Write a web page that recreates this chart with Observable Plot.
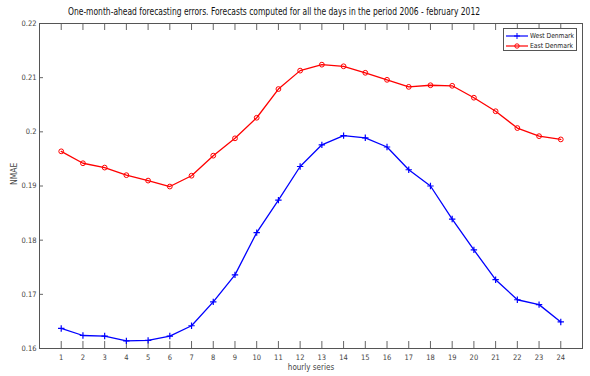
<!DOCTYPE html>
<html>
<head>
<meta charset="utf-8">
<script src="https://cdn.jsdelivr.net/npm/d3@7"></script>
<script src="https://cdn.jsdelivr.net/npm/@observablehq/plot@0.6"></script>
<style>
  body { margin: 0; background: #fff; }
  #wrap { position: relative; width: 590px; height: 376px; overflow: hidden; font-family: "Liberation Sans Narrow", "DejaVu Sans Condensed", "Liberation Sans", Arial, sans-serif; }
  #title { position: absolute; left: 68px; top: 5px; font-size: 10.5px; color: #111; white-space: nowrap; transform-origin: 0 0; }
  #legend { position: absolute; left: 503px; top: 28px; width: 72px; height: 21px; border: 1px solid #555; background: #fff; font-size: 7px; color: #222; }
  .lrow { position: absolute; left: 1px; height: 10px; display: flex; align-items: center; white-space: nowrap; }
  .lrow svg { margin-right: 1px; flex: none; }
  .lrow span { display: inline-block; transform-origin: 0 50%; }
  #wrap svg.plot { position: absolute; left: 0; top: 0; }
</style>
</head>
<body>
<div id="wrap"></div>
<script>
const titleText = "One-month-ahead forecasting errors. Forecasts  computed for all the days in the period 2006 - february 2012";
const seriesNames = ["West Denmark", "East Denmark"];
const seriesColors = ["#0000ff", "#ff0000"];
const hours = [1,2,3,4,5,6,7,8,9,10,11,12,13,14,15,16,17,18,19,20,21,22,23,24];
const westDenmark = [0.1637,0.1624,0.1623,0.1614,0.1615,0.1623,0.1642,0.1686,0.1736,0.1814,0.1874,0.1936,
                     0.1976,0.1993,0.1989,0.1972,0.1930,0.1900,0.1839,0.1782,0.1727,0.1690,0.1681,0.1649];
const eastDenmark = [0.1964,0.1942,0.1934,0.1920,0.1910,0.1899,0.1919,0.1956,0.1988,0.2026,0.2079,0.2113,
                     0.2124,0.2121,0.2109,0.2096,0.2083,0.2086,0.2085,0.2063,0.2038,0.2007,0.1992,0.1986];
const yTicks = [0.16,0.17,0.18,0.19,0.2,0.21,0.22];
const xLabel = "hourly series";
const yLabel = "NMAE";

const W = 590, H = 376, mT = 23, mB = 28, mL = 39, mR = 8;
const plotH = H - mT - mB, plotW = W - mL - mR;

const west = hours.map((h, i) => ({hour: h, value: westDenmark[i]}));
const east = hours.map((h, i) => ({hour: h, value: eastDenmark[i]}));

const plusSymbol = {
  draw(ctx, size) {
    const r = Math.sqrt(size / Math.PI);
    ctx.moveTo(-r, 0); ctx.lineTo(r, 0);
    ctx.moveTo(0, -r); ctx.lineTo(0, r);
  }
};

const axisColor = "#444";
const chart = Plot.plot({
  width: W, height: H,
  marginTop: mT, marginBottom: mB, marginLeft: mL, marginRight: mR,
  style: {fontFamily: "'Liberation Sans Narrow', 'DejaVu Sans Condensed', 'Liberation Sans', sans-serif", fontSize: "7.5px", color: axisColor, background: "white"},
  x: {domain: [0, 25]},
  y: {domain: [0.16, 0.22]},
  marks: [
    Plot.ruleX(hours, {x: d => d, insetTop: plotH - 7, stroke: "#666"}),
    Plot.ruleX(hours, {x: d => d, insetBottom: plotH - 7, stroke: "#666"}),
    Plot.ruleY(yTicks, {y: d => d, insetRight: plotW - 4, stroke: "#666"}),
    Plot.axisX({ticks: hours, tickSize: 0, tickPadding: 6, tickFormat: d => `${d}`, label: null, fill: axisColor}),
    Plot.axisY({ticks: yTicks, tickSize: 0, tickPadding: 3, tickFormat: d => `${d}`, label: null, fill: axisColor}),
    Plot.text([xLabel], {frameAnchor: "bottom", dy: 21, dx: 0, fill: axisColor, fontSize: 8}),
    Plot.text([yLabel], {frameAnchor: "left", dx: -25, dy: -1, rotate: -90, fill: axisColor, fontSize: 8.5}),
    Plot.line(west, {x: "hour", y: "value", stroke: seriesColors[0], strokeWidth: 1.3}),
    Plot.dot(west, {x: "hour", y: "value", symbol: plusSymbol, r: 3.2, stroke: seriesColors[0], strokeWidth: 1.2, fill: "none"}),
    Plot.line(east, {x: "hour", y: "value", stroke: seriesColors[1], strokeWidth: 1.3}),
    Plot.dot(east, {x: "hour", y: "value", symbol: "circle", r: 2.4, stroke: seriesColors[1], strokeWidth: 1, fill: "none"}),
    Plot.frame({stroke: "#555"})
  ]
});
chart.classList.add("plot");
const wrap = document.getElementById("wrap");
wrap.appendChild(chart);

// Title
const t = document.createElement("div");
t.id = "title";
t.textContent = titleText;
wrap.appendChild(t);
const tw = t.getBoundingClientRect().width;
t.style.transform = `scaleX(${412 / tw})`;

// Legend
const lg = document.createElement("div");
lg.id = "legend";
wrap.appendChild(lg);
seriesNames.forEach((name, i) => {
  const row = document.createElement("div");
  row.className = "lrow";
  row.style.top = (i === 0 ? 2 : 12) + "px";
  const s = d3.create("svg").attr("width", 24).attr("height", 8);
  s.append("line").attr("x1", 1).attr("x2", 23).attr("y1", 4).attr("y2", 4).attr("stroke", seriesColors[i]).attr("stroke-width", 1.2);
  if (i === 0) {
    s.append("path").attr("d", "M9,4H15M12,1V7").attr("stroke", seriesColors[i]).attr("stroke-width", 1);
  } else {
    s.append("circle").attr("cx", 12).attr("cy", 4).attr("r", 2.2).attr("fill", "none").attr("stroke", seriesColors[i]);
  }
  row.appendChild(s.node());
  const sp = document.createElement("span");
  sp.textContent = name;
  row.appendChild(sp);
  lg.appendChild(row);
  const w = sp.getBoundingClientRect().width;
  const target = i === 0 ? 44 : 43;
  if (w > target) sp.style.transform = `scaleX(${target / w})`;
});
</script>
</body>
</html>
